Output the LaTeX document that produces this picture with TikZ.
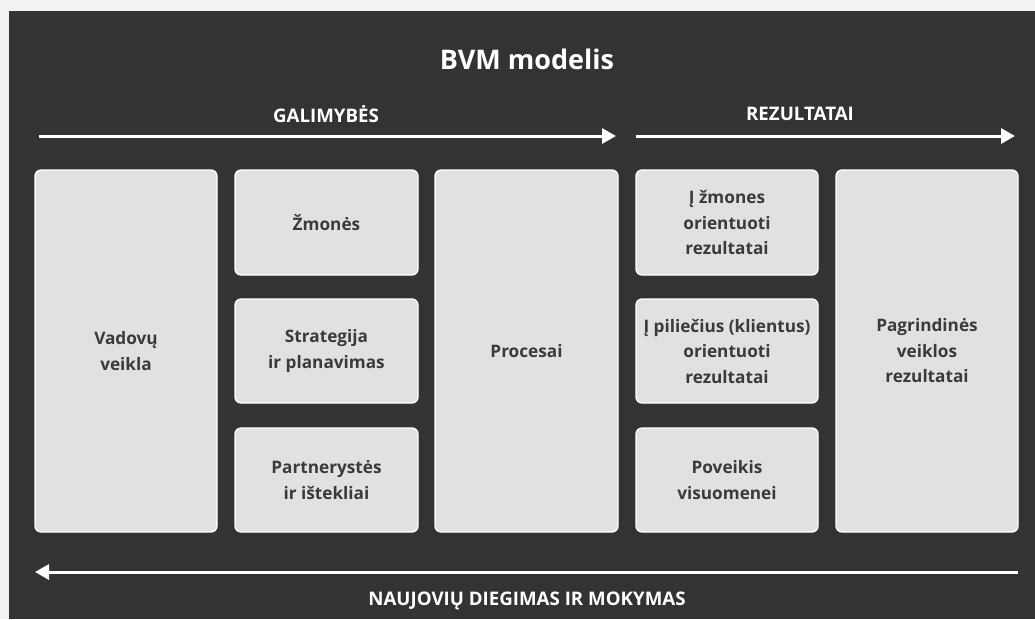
\documentclass[tikz,border=0pt]{standalone}
\usepackage{fontspec}
\setmainfont{Open Sans}
\usetikzlibrary{arrows.meta}
\definecolor{panel}{HTML}{333333}
\definecolor{boxfill}{HTML}{E1E1E1}
\definecolor{boxtext}{HTML}{3A3A3A}
\definecolor{outside}{HTML}{F2F2F2}
\tikzset{
  card/.style={draw=white, line width=1.3pt, fill=boxfill, rounded corners=6pt,
    text=boxtext, font=\bfseries\fontsize{17.2}{25.5}\selectfont, align=center,
    inner sep=0pt, outer sep=0pt},
  flow/.style={draw=white, line width=3pt, -{Triangle[length=14pt,width=15pt]}},
  heading/.style={text=white, font=\bfseries\fontsize{18.7}{21}\selectfont, inner sep=0pt}
}
\begin{document}
\begin{tikzpicture}[x=1pt,y=-1pt]
  \useasboundingbox (0,0) rectangle (1035,619);
  \fill[outside] (0,0) rectangle (1035,619);
  \fill[panel] (9,11) rectangle (1035,619);

  \node[text=white, font=\bfseries\fontsize{27}{30}\selectfont, inner sep=0pt] (title) at (527,59) {BVM modelis};

  % flow arrows
  \coordinate (g1) at (39,136);
  \coordinate (g2) at (616,136);
  \coordinate (r1) at (636,136);
  \coordinate (r2) at (1015,136);
  \coordinate (n1) at (1018,572);
  \coordinate (n2) at (35,572);
  \draw[flow] (g1) -- (g2);
  \draw[flow] (r1) -- (r2);
  \draw[flow] (n1) -- (n2);
  \node[heading] (galim) at (326,114) {GALIMYBĖS};
  \node[heading] (rez) at (800,114) {REZULTATAI};
  \node[heading] (nauj) at (527,601) {NAUJOVIŲ DIEGIMAS IR MOKYMAS};

  % enablers
  \node[card, minimum width=182pt, minimum height=362pt] (vad) at (126,351) {Vadovų\\veikla};
  \node[card, minimum width=183pt, minimum height=105pt] (zm) at (326.5,222.5) {Žmonės};
  \node[card, minimum width=183pt, minimum height=104pt] (str) at (326.5,351) {Strategija\\ir planavimas};
  \node[card, minimum width=183pt, minimum height=104pt] (par) at (326.5,480) {Partnerystės\\ir ištekliai};
  \node[card, minimum width=183pt, minimum height=362pt] (proc) at (526.5,351) {Procesai};

  % results
  \node[card, minimum width=182pt, minimum height=105pt] (rzm) at (727,222.5) {Į žmones\\orientuoti\\rezultatai};
  \node[card, minimum width=182pt, minimum height=104pt] (rpil) at (727,351) {Į piliečius (klientus)\\orientuoti\\rezultatai};
  \node[card, minimum width=182pt, minimum height=104pt] (pov) at (727,480) {Poveikis\\visuomenei};
  \node[card, minimum width=182pt, minimum height=362pt] (pagr) at (927,351) {Pagrindinės\\veiklos\\rezultatai};
\end{tikzpicture}
\end{document}
